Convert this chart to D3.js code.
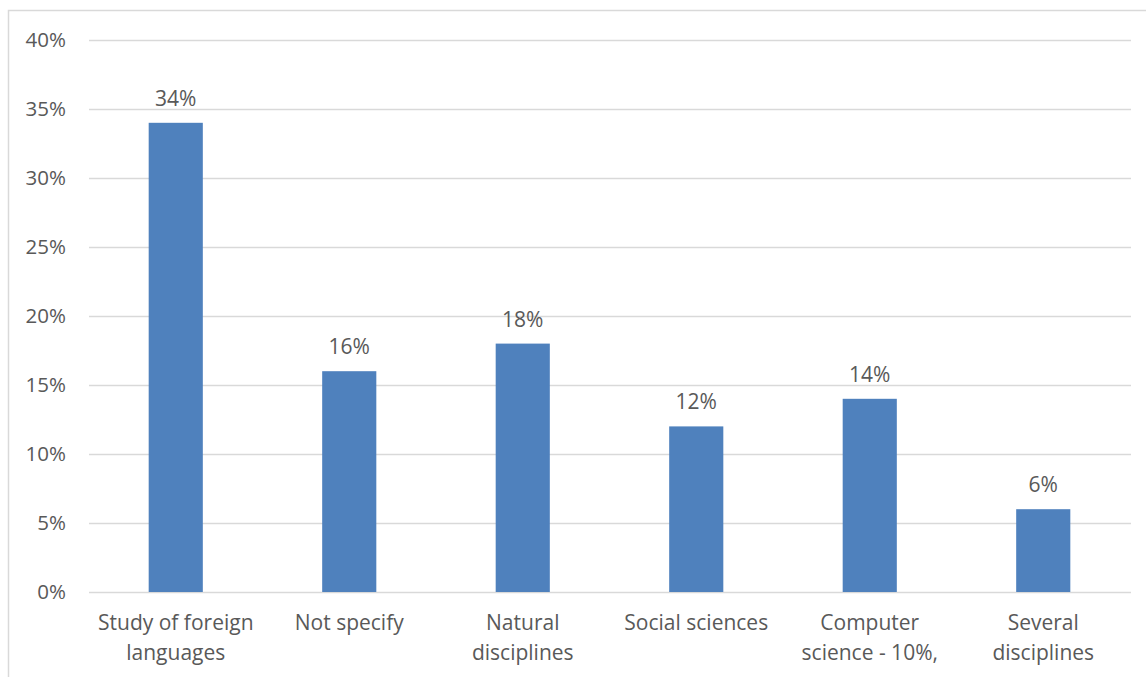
<!DOCTYPE html>
<html><head><meta charset="utf-8">
<script src="https://cdn.jsdelivr.net/npm/d3@7"></script>
<style>
html,body{margin:0;padding:0;background:#fff;}
svg text{font-family:"Open Sans","Noto Sans",sans-serif;fill:#595959;}
</style></head>
<body>
<svg id="chart" width="1146" height="677"></svg>
<script>
const categories = [["Study of foreign","languages"],["Not specify"],["Natural","disciplines"],["Social sciences"],["Computer","science - 10%,"],["Several","disciplines"]];
const values = [34, 16, 18, 12, 14, 6];
const yTicks = [0, 5, 10, 15, 20, 25, 30, 35, 40];

const svg = d3.select("#chart");
const margin = {left: 89, right: 16, top: 40, bottom: 85};
const W = 1146, H = 677;

// chart border
svg.append("rect").attr("x", 8.5).attr("y", 10.5).attr("width", 1160).attr("height", 700)
  .attr("fill", "none").attr("stroke", "#d9d9d9").attr("stroke-width", 1.5);

const x = d3.scaleBand().domain(d3.range(categories.length))
  .range([margin.left, W - margin.right]).paddingInner(0.688).paddingOuter(0.344);
const y = d3.scaleLinear().domain([0, 40]).range([H - margin.bottom, margin.top]);

// gridlines
svg.append("g").selectAll("line").data(yTicks).join("line")
  .attr("x1", margin.left).attr("x2", W - margin.right + 1)
  .attr("y1", d => Math.round(y(d)) + 0.5).attr("y2", d => Math.round(y(d)) + 0.5)
  .attr("stroke", "#d9d9d9").attr("stroke-width", 1.5);

// y axis labels
const yAxis = d3.axisLeft(y).tickValues(yTicks).tickFormat(d => d + "%").tickSize(0).tickPadding(0);
const ya = svg.append("g").attr("transform", `translate(${66},0)`).call(yAxis);
ya.select(".domain").remove();
ya.selectAll("text").attr("font-size", 20.5).style("font-family", '"Open Sans","Noto Sans",sans-serif').attr("fill", "#595959");

// bars
svg.append("g").selectAll("rect").data(values).join("rect")
  .attr("x", (d, i) => x(i)).attr("width", x.bandwidth())
  .attr("y", d => y(d)).attr("height", d => y(0) - y(d))
  .attr("fill", "#4f81bd");

// value labels
svg.append("g").selectAll("text").data(values).join("text")
  .attr("x", (d, i) => x(i) + x.bandwidth() / 2).attr("y", d => y(d) - 17)
  .attr("text-anchor", "middle").attr("font-size", 21).text(d => d + "%");

// category labels
const xAxis = d3.axisBottom(x).tickSize(0).tickFormat("");
const xa = svg.append("g").attr("transform", `translate(0,${y(0)})`).call(xAxis);
xa.select(".domain").remove();
xa.selectAll(".tick").each(function(i) {
  const t = d3.select(this).append("text").attr("text-anchor", "middle").attr("font-size", 21)
    .style("font-family", '"Open Sans","Noto Sans",sans-serif').attr("fill", "#595959");
  categories[i].forEach((line, k) => {
    t.append("tspan").attr("x", 0).attr("y", 38 + k * 30).text(line);
  });
});
</script>
</body></html>
